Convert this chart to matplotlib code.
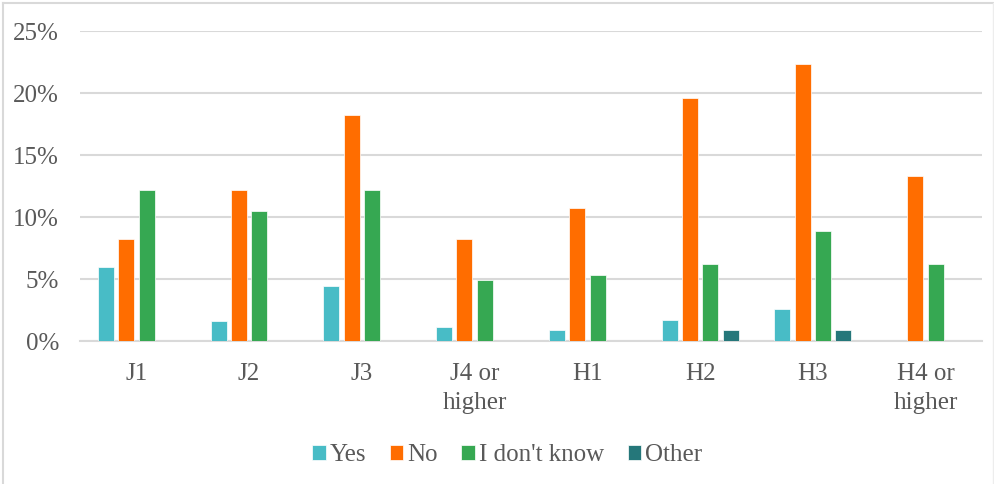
import numpy as np
import matplotlib.pyplot as plt
from matplotlib.lines import Line2D

categories = ["J1", "J2", "J3", "J4 or\nhigher", "H1", "H2", "H3", "H4 or\nhigher"]
series = ["Yes", "No", "I don't know", "Other"]
yes = [6.0, 1.6, 4.4, 1.1, 0.9, 1.7, 2.6, 0.0]
no = [8.2, 12.2, 18.2, 8.2, 10.7, 19.6, 22.3, 13.3]
dont_know = [12.2, 10.5, 12.2, 4.9, 5.3, 6.2, 8.9, 6.2]
other = [0.0, 0.0, 0.0, 0.0, 0.0, 0.9, 0.9, 0.0]
colors = ["#48BCC6", "#FF6D00", "#36A852", "#25777A"]

plt.rcParams['font.family'] = ['Liberation Serif', 'DejaVu Serif']

fig = plt.figure(figsize=(9.95, 4.84), dpi=100)
ax = fig.add_axes([80 / 995, 1 - 341 / 484, (982 - 80) / 995, (341 - 31) / 484])

x = np.arange(len(categories))
slot = 0.18
width = 0.142
for i, (name, vals, c) in enumerate(zip(series, [yes, no, dont_know, other], colors)):
    offs = (i - 1.5) * slot
    ax.bar(x + offs, vals, width, color=c, label=name, zorder=3,
           edgecolor='white', linewidth=0.5)

ax.set_xlim(-0.5, len(categories) - 0.5)
ax.set_ylim(0, 25)
ax.set_yticks(np.arange(0, 26, 5))
ax.set_yticklabels([f"{v}%" for v in range(0, 26, 5)])
ax.set_xticks(x)
ax.set_xticklabels(categories, linespacing=1.4)
ax.tick_params(axis='both', length=0, labelsize=18, colors='#595959')
ax.tick_params(axis='y', pad=15)
ax.tick_params(axis='x', pad=16)
ax.yaxis.grid(True, color='#D9D9D9', linewidth=1.5, zorder=0)
for s in ['top', 'right', 'left']:
    ax.spines[s].set_visible(False)
ax.spines['bottom'].set_color('#D9D9D9')
ax.spines['bottom'].set_linewidth(1.5)

leg = fig.legend(loc='center', bbox_to_anchor=(507 / 995, 1 - 455 / 484), ncol=4,
                 frameon=False, fontsize=18, handlelength=0.55, handleheight=0.55,
                 handletextpad=0.15, columnspacing=0.95)
for t in leg.get_texts():
    t.set_color('#595959')

# chart frame
fig.add_artist(Line2D([3 / 995, 3 / 995], [0, 1 - 3 / 484], color='#D9D9D9', lw=1.5))
fig.add_artist(Line2D([3 / 995, 993 / 995], [1 - 3 / 484, 1 - 3 / 484], color='#D9D9D9', lw=1.5))
fig.add_artist(Line2D([993 / 995, 993 / 995], [0, 1 - 3 / 484], color='#EDEDED', lw=1.0))

fig.savefig("out.png", dpi=100)
